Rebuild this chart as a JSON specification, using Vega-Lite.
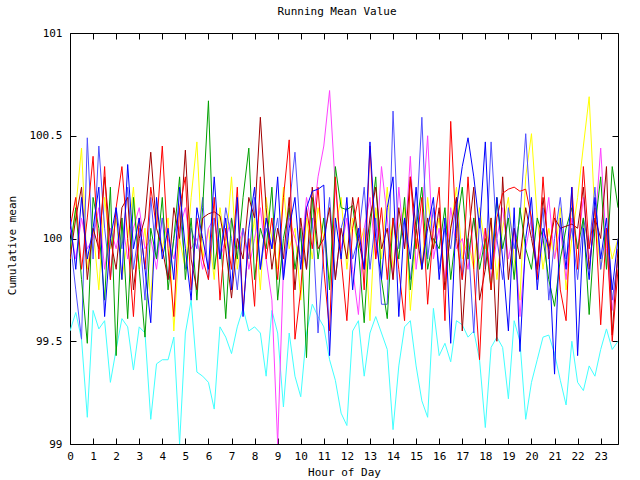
{
"$schema": "https://vega.github.io/schema/vega-lite/v6.json",
"width": 548, "height": 411,
"autosize": {"type": "none"},
"padding": {"left": 70, "top": 33, "right": 22, "bottom": 36},
"background": "white",
"config": {
  "view": {"stroke": "black", "strokeWidth": 1},
  "font": "DejaVu Sans Mono",
  "axis": {"grid": false, "domain": false, "tickColor": "black", "tickSize": -6, "labelColor": "black", "titleColor": "black", "labelFont": "DejaVu Sans Mono", "titleFont": "DejaVu Sans Mono", "labelFontSize": 11, "titleFontSize": 11, "titleFontWeight": "normal", "labelFlush": false, "labelOverlap": false}
},
"title": {"text": "Running Mean Value", "anchor": "middle", "frame": "group", "fontSize": 11, "fontWeight": "normal", "font": "DejaVu Sans Mono", "color": "black", "offset": 10, "dx": -7},
"data": {"values": [
{"h":0,"c":99.55,"y":99.90,"m":100.05,"l":100.00,"g":99.95,"d":99.90,"r":100.05,"b":100.10},
{"h":0.25,"c":99.64,"y":100.15,"m":99.90,"l":99.75,"g":100.15,"d":100.10,"r":100.20,"b":99.85},
{"h":0.5,"c":99.51,"y":100.44,"m":100.10,"l":99.51,"g":99.80,"d":100.25,"r":99.85,"b":100.20},
{"h":0.75,"c":99.13,"y":99.85,"m":99.95,"l":100.49,"g":99.49,"d":99.80,"r":100.10,"b":99.90},
{"h":1,"c":99.65,"y":100.05,"m":100.00,"l":99.90,"g":100.20,"d":100.05,"r":100.40,"b":100.05},
{"h":1.25,"c":99.56,"y":99.75,"m":100.15,"l":100.45,"g":100.05,"d":99.95,"r":99.90,"b":100.25},
{"h":1.5,"c":99.60,"y":100.20,"m":99.85,"l":100.05,"g":99.70,"d":100.30,"r":100.35,"b":99.62},
{"h":1.75,"c":99.30,"y":99.95,"m":100.05,"l":99.80,"g":100.25,"d":100.00,"r":99.80,"b":100.00},
{"h":2,"c":99.46,"y":100.10,"m":99.95,"l":100.15,"g":99.43,"d":99.85,"r":100.15,"b":100.15},
{"h":2.25,"c":99.61,"y":99.80,"m":100.10,"l":99.95,"g":100.10,"d":100.15,"r":100.35,"b":99.80},
{"h":2.5,"c":99.57,"y":100.00,"m":99.90,"l":100.25,"g":99.61,"d":100.20,"r":100.00,"b":100.36},
{"h":2.75,"c":99.36,"y":100.25,"m":100.05,"l":99.85,"g":100.20,"d":99.75,"r":99.62,"b":99.95},
{"h":3,"c":99.57,"y":99.85,"m":100.15,"l":100.05,"g":99.85,"d":100.00,"r":100.10,"b":100.10},
{"h":3.25,"c":99.54,"y":100.05,"m":99.95,"l":99.70,"g":99.52,"d":100.10,"r":99.85,"b":99.85},
{"h":3.5,"c":99.12,"y":99.70,"m":100.00,"l":100.20,"g":100.05,"d":100.42,"r":100.25,"b":99.59},
{"h":3.75,"c":99.39,"y":100.15,"m":99.85,"l":99.90,"g":99.90,"d":100.05,"r":100.05,"b":100.20},
{"h":4,"c":99.41,"y":99.95,"m":100.10,"l":100.10,"g":100.20,"d":99.95,"r":100.45,"b":99.90},
{"h":4.25,"c":99.41,"y":100.10,"m":100.00,"l":99.80,"g":99.75,"d":99.80,"r":99.95,"b":100.05},
{"h":4.5,"c":99.52,"y":99.55,"m":99.90,"l":100.00,"g":100.00,"d":100.15,"r":99.62,"b":99.80},
{"h":4.75,"c":99.00,"y":100.00,"m":100.05,"l":100.15,"g":100.30,"d":100.00,"r":100.15,"b":100.25},
{"h":5,"c":99.54,"y":99.85,"m":100.15,"l":99.85,"g":99.80,"d":100.43,"r":100.30,"b":99.95},
{"h":5.25,"c":99.70,"y":100.20,"m":99.95,"l":100.05,"g":100.10,"d":99.90,"r":99.75,"b":99.70},
{"h":5.5,"c":99.35,"y":100.47,"m":100.00,"l":99.95,"g":99.70,"d":99.75,"r":100.10,"b":100.15},
{"h":5.75,"c":99.33,"y":99.90,"m":99.85,"l":100.20,"g":100.15,"d":100.10,"r":99.90,"b":100.00},
{"h":6,"c":99.30,"y":100.05,"m":100.05,"l":99.80,"g":100.67,"d":100.12,"r":99.80,"b":99.85},
{"h":6.25,"c":99.17,"y":99.80,"m":100.10,"l":100.10,"g":99.85,"d":100.13,"r":100.20,"b":100.30},
{"h":6.5,"c":99.57,"y":100.15,"m":99.90,"l":99.90,"g":100.05,"d":100.11,"r":99.70,"b":99.90},
{"h":6.75,"c":99.52,"y":99.95,"m":100.00,"l":100.15,"g":99.61,"d":99.95,"r":100.05,"b":100.10},
{"h":7,"c":99.44,"y":100.30,"m":100.10,"l":100.00,"g":100.10,"d":99.71,"r":99.85,"b":99.75},
{"h":7.25,"c":99.57,"y":99.85,"m":99.95,"l":99.75,"g":99.90,"d":100.00,"r":100.25,"b":100.20},
{"h":7.5,"c":99.66,"y":100.05,"m":100.05,"l":100.05,"g":100.20,"d":99.90,"r":99.65,"b":99.62},
{"h":7.75,"c":99.55,"y":99.90,"m":99.85,"l":99.90,"g":100.44,"d":100.20,"r":100.00,"b":100.05},
{"h":8,"c":99.57,"y":100.10,"m":100.00,"l":100.20,"g":99.80,"d":100.10,"r":99.67,"b":100.25},
{"h":8.25,"c":99.54,"y":99.75,"m":100.15,"l":99.85,"g":100.05,"d":100.59,"r":100.30,"b":99.85},
{"h":8.5,"c":99.33,"y":100.20,"m":99.90,"l":100.05,"g":99.95,"d":100.15,"r":99.90,"b":100.10},
{"h":8.75,"c":99.65,"y":100.00,"m":99.70,"l":99.95,"g":100.25,"d":99.85,"r":100.10,"b":99.95},
{"h":9,"c":99.54,"y":99.85,"m":99.00,"l":100.10,"g":99.70,"d":100.05,"r":99.80,"b":100.30},
{"h":9.25,"c":99.18,"y":100.25,"m":99.85,"l":99.80,"g":100.00,"d":99.90,"r":100.20,"b":99.80},
{"h":9.5,"c":99.54,"y":99.95,"m":100.10,"l":100.15,"g":100.15,"d":100.20,"r":100.48,"b":100.05},
{"h":9.75,"c":99.33,"y":100.05,"m":100.00,"l":100.42,"g":99.85,"d":99.75,"r":99.51,"b":100.20},
{"h":10,"c":99.23,"y":99.70,"m":99.90,"l":100.00,"g":100.05,"d":100.10,"r":99.75,"b":99.85},
{"h":10.25,"c":99.54,"y":100.10,"m":100.20,"l":99.85,"g":99.42,"d":99.85,"r":100.15,"b":100.15},
{"h":10.5,"c":99.68,"y":99.90,"m":100.05,"l":100.10,"g":100.20,"d":100.25,"r":99.95,"b":100.23},
{"h":10.75,"c":99.62,"y":100.15,"m":100.30,"l":99.54,"g":99.90,"d":99.95,"r":100.25,"b":100.24},
{"h":11,"c":99.57,"y":100.00,"m":100.45,"l":99.95,"g":100.10,"d":100.00,"r":99.85,"b":100.26},
{"h":11.25,"c":99.41,"y":99.80,"m":100.72,"l":100.20,"g":99.75,"d":100.15,"r":99.55,"b":99.43},
{"h":11.5,"c":99.31,"y":100.05,"m":100.25,"l":99.80,"g":100.35,"d":99.80,"r":100.30,"b":100.10},
{"h":11.75,"c":99.15,"y":100.20,"m":99.95,"l":100.05,"g":100.15,"d":100.05,"r":99.90,"b":99.90},
{"h":12,"c":99.09,"y":99.85,"m":100.10,"l":100.15,"g":100.14,"d":99.90,"r":99.60,"b":100.20},
{"h":12.25,"c":99.55,"y":100.10,"m":99.85,"l":99.90,"g":100.16,"d":100.20,"r":100.05,"b":99.75},
{"h":12.5,"c":99.60,"y":99.95,"m":99.63,"l":100.00,"g":99.95,"d":100.00,"r":100.20,"b":100.05},
{"h":12.75,"c":99.33,"y":100.05,"m":100.05,"l":100.25,"g":99.59,"d":99.85,"r":99.75,"b":99.85},
{"h":13,"c":99.54,"y":99.60,"m":100.20,"l":99.85,"g":100.05,"d":100.10,"r":100.45,"b":100.47},
{"h":13.25,"c":99.62,"y":100.15,"m":99.90,"l":100.10,"g":100.30,"d":100.25,"r":99.90,"b":100.00},
{"h":13.5,"c":99.54,"y":99.90,"m":100.35,"l":99.68,"g":99.80,"d":99.95,"r":100.15,"b":99.80},
{"h":13.75,"c":99.46,"y":100.25,"m":100.10,"l":99.68,"g":99.61,"d":100.05,"r":99.80,"b":100.15},
{"h":14,"c":99.07,"y":99.85,"m":99.80,"l":100.62,"g":100.10,"d":99.80,"r":100.10,"b":100.30},
{"h":14.25,"c":99.38,"y":100.05,"m":100.25,"l":99.95,"g":99.90,"d":100.15,"r":99.85,"b":99.62},
{"h":14.5,"c":99.57,"y":100.15,"m":99.95,"l":100.10,"g":100.20,"d":99.95,"r":99.60,"b":100.10},
{"h":14.75,"c":99.60,"y":99.65,"m":100.40,"l":99.80,"g":99.75,"d":100.30,"r":100.30,"b":99.90},
{"h":15,"c":99.38,"y":100.00,"m":99.85,"l":100.05,"g":100.05,"d":100.05,"r":99.95,"b":100.25},
{"h":15.25,"c":99.21,"y":99.85,"m":100.10,"l":100.59,"g":100.25,"d":99.85,"r":100.20,"b":99.85},
{"h":15.5,"c":99.13,"y":100.20,"m":100.50,"l":99.90,"g":99.85,"d":100.10,"r":99.68,"b":100.05},
{"h":15.75,"c":99.66,"y":99.95,"m":99.90,"l":100.15,"g":100.00,"d":99.95,"r":100.05,"b":100.20},
{"h":16,"c":99.43,"y":100.10,"m":100.05,"l":99.85,"g":99.95,"d":100.15,"r":100.25,"b":99.80},
{"h":16.25,"c":99.49,"y":99.80,"m":99.80,"l":100.05,"g":100.15,"d":99.75,"r":99.60,"b":100.10},
{"h":16.5,"c":99.40,"y":100.05,"m":100.15,"l":99.95,"g":99.80,"d":100.05,"r":100.57,"b":99.49},
{"h":16.75,"c":99.60,"y":100.25,"m":99.95,"l":100.20,"g":100.05,"d":100.20,"r":100.00,"b":100.15},
{"h":17,"c":99.58,"y":99.90,"m":100.00,"l":99.80,"g":100.25,"d":99.55,"r":99.80,"b":100.35},
{"h":17.25,"c":99.52,"y":100.00,"m":99.85,"l":100.00,"g":99.90,"d":100.00,"r":100.30,"b":100.49},
{"h":17.5,"c":99.55,"y":99.85,"m":100.10,"l":99.54,"g":100.10,"d":100.25,"r":99.85,"b":100.30},
{"h":17.75,"c":99.41,"y":100.15,"m":99.90,"l":100.10,"g":99.85,"d":99.70,"r":99.41,"b":100.05},
{"h":18,"c":99.08,"y":99.95,"m":100.05,"l":99.85,"g":100.00,"d":99.85,"r":100.05,"b":100.47},
{"h":18.25,"c":99.47,"y":100.10,"m":99.80,"l":100.47,"g":99.75,"d":100.10,"r":99.75,"b":99.85},
{"h":18.5,"c":99.52,"y":99.80,"m":100.00,"l":100.00,"g":100.20,"d":99.50,"r":100.10,"b":100.20},
{"h":18.75,"c":99.47,"y":100.05,"m":100.15,"l":99.80,"g":99.95,"d":100.30,"r":100.22,"b":99.90},
{"h":19,"c":99.22,"y":100.20,"m":99.90,"l":100.15,"g":100.10,"d":99.80,"r":100.24,"b":99.55},
{"h":19.25,"c":99.60,"y":99.90,"m":100.05,"l":99.95,"g":99.80,"d":100.05,"r":100.25,"b":100.15},
{"h":19.5,"c":99.50,"y":99.70,"m":99.62,"l":100.10,"g":100.15,"d":99.90,"r":100.23,"b":99.45},
{"h":19.75,"c":99.12,"y":100.30,"m":99.95,"l":100.51,"g":99.95,"d":100.15,"r":100.24,"b":100.00},
{"h":20,"c":99.30,"y":100.51,"m":100.10,"l":100.05,"g":99.85,"d":100.00,"r":100.10,"b":100.20},
{"h":20.25,"c":99.41,"y":100.10,"m":99.85,"l":99.85,"g":100.10,"d":99.85,"r":99.80,"b":99.75},
{"h":20.5,"c":99.52,"y":99.85,"m":100.00,"l":100.15,"g":100.00,"d":100.20,"r":100.30,"b":100.05},
{"h":20.75,"c":99.53,"y":100.05,"m":100.20,"l":99.70,"g":99.80,"d":99.95,"r":99.90,"b":99.95},
{"h":21,"c":99.44,"y":99.90,"m":99.90,"l":100.00,"g":99.67,"d":100.10,"r":100.15,"b":99.34},
{"h":21.25,"c":99.31,"y":100.15,"m":100.05,"l":100.20,"g":99.90,"d":100.05,"r":99.75,"b":100.10},
{"h":21.5,"c":99.19,"y":99.75,"m":99.80,"l":99.90,"g":100.05,"d":100.06,"r":99.60,"b":99.85},
{"h":21.75,"c":99.50,"y":100.00,"m":100.10,"l":100.05,"g":100.15,"d":100.07,"r":100.25,"b":100.25},
{"h":22,"c":99.30,"y":100.20,"m":99.95,"l":99.80,"g":99.95,"d":100.05,"r":99.85,"b":99.43},
{"h":22.25,"c":99.26,"y":100.45,"m":100.20,"l":100.10,"g":100.10,"d":100.25,"r":100.35,"b":100.05},
{"h":22.5,"c":99.38,"y":100.69,"m":99.90,"l":99.95,"g":99.63,"d":99.85,"r":99.95,"b":99.80},
{"h":22.75,"c":99.33,"y":100.10,"m":100.05,"l":100.25,"g":100.05,"d":100.10,"r":100.15,"b":100.20},
{"h":23,"c":99.46,"y":99.85,"m":100.44,"l":99.85,"g":100.30,"d":100.00,"r":99.58,"b":99.90},
{"h":23.25,"c":99.56,"y":100.05,"m":99.95,"l":100.05,"g":99.85,"d":100.35,"r":100.05,"b":100.10},
{"h":23.5,"c":99.46,"y":99.90,"m":99.65,"l":99.70,"g":100.35,"d":99.53,"r":99.50,"b":99.75},
{"h":23.75,"c":99.50,"y":100.00,"m":99.90,"l":99.90,"g":100.15,"d":99.95,"r":99.85,"b":100.00}
]},
"transform": [{"fold": ["c","y","m","l","g","d","r","b"], "as": ["s","v"]}],
"layer": [
  {
    "mark": {"type": "line", "strokeWidth": 1, "clip": true},
    "encoding": {
      "x": {"field": "h", "type": "quantitative", "scale": {"domain": [0, 23.75], "nice": false, "zero": false},
            "axis": {"orient": "bottom", "values": [0,1,2,3,4,5,6,7,8,9,10,11,12,13,14,15,16,17,18,19,20,21,22,23], "format": "d", "labelPadding": 12, "title": "Hour of Day", "titleY": 28, "titleBaseline": "middle"}},
      "y": {"field": "v", "type": "quantitative", "scale": {"domain": [99, 101], "nice": false, "zero": false},
            "axis": {"orient": "left", "values": [99, 99.5, 100, 100.5, 101], "format": ".1~f", "labelPadding": 14, "title": "Cumulative mean", "titleX": -58, "titleY": 212, "titleBaseline": "middle", "titleAngle": -90}},
      "color": {"field": "s", "type": "nominal",
                "scale": {"domain": ["c","y","m","l","g","d","r","b"], "range": ["#40ffff","#ffff00","#ff40ff","#5050ff","#00a000","#a00000","#ff0000","#0000ff"]},
                "legend": null}
    }
  },
  {
    "mark": {"type": "point", "opacity": 0},
    "encoding": {
      "x": {"field": "h", "type": "quantitative", "scale": {"domain": [0, 23.75], "nice": false, "zero": false},
            "axis": {"orient": "top", "values": [0,1,2,3,4,5,6,7,8,9,10,11,12,13,14,15,16,17,18,19,20,21,22,23], "labels": false, "title": null}},
      "y": {"field": "v", "type": "quantitative", "scale": {"domain": [99, 101], "nice": false, "zero": false},
            "axis": {"orient": "right", "values": [99, 99.5, 100, 100.5, 101], "labels": false, "title": null}}
    }
  }
],
"resolve": {"axis": {"x": "independent", "y": "independent"}}
}
